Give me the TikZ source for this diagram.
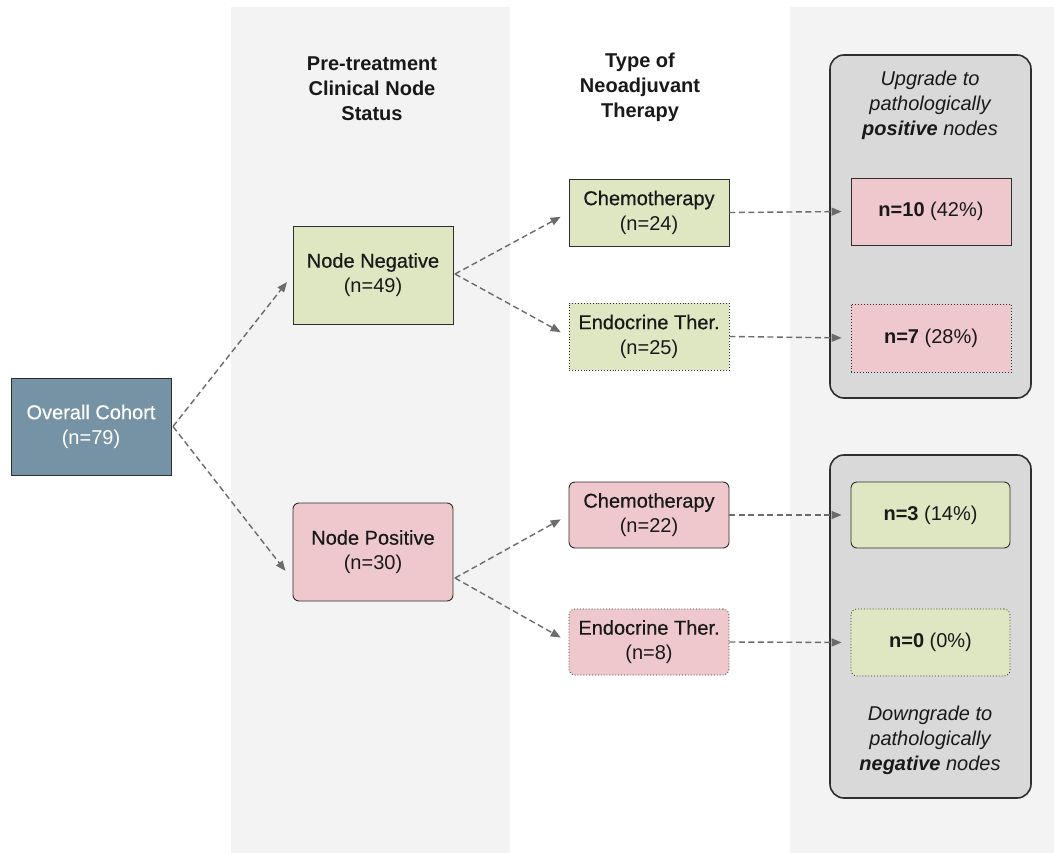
\documentclass[tikz,border=0pt]{standalone}
\usepackage{fontspec}
\setmainfont{Liberation Sans}
\newfontfamily\medfont[FakeBold=0.5]{Liberation Sans}
\usetikzlibrary{arrows.meta}
\definecolor{bandc}{HTML}{F3F3F3}
\definecolor{outerc}{HTML}{D9D9D9}
\definecolor{greenc}{HTML}{DFE6C2}
\definecolor{pinkc}{HTML}{EFC8CE}
\definecolor{bluec}{HTML}{7593A5}
\definecolor{edgec}{HTML}{2E2E2E}
\definecolor{arrc}{HTML}{6B6B6B}
\newcommand{\med}[1]{{\medfont #1}}
\tikzset{
  box/.style={draw=edgec, line width=0.9pt, minimum width=160pt, align=center,
    font=\fontsize{20}{25}\selectfont, inner sep=0pt, text=black!90},
  sharp/.style={box},
  rnd/.style={box, rounded corners=6pt},
  dotb/.style={dotted, line width=0.8pt},
  conn/.style={draw=arrc, line width=1.4pt, dash pattern=on 6pt off 3.5pt,
    -{Triangle[length=10pt,width=8pt]}, shorten >=9pt},
  hdr/.style={align=center, font=\bfseries\fontsize{20}{25}\selectfont, text=black!90},
  grp/.style={draw=edgec, fill=outerc, line width=1.6pt, rounded corners=14pt},
  captxt/.style={align=center, font=\itshape\fontsize{20}{25}\selectfont, text=black!90}
}
\begin{document}
\begin{tikzpicture}[x=1pt,y=-1pt]
\useasboundingbox (0,0) rectangle (1054,853);
\fill[white] (0,0) rectangle (1054,853);
% bands
\fill[bandc] (231,7) rectangle (510,853);
\fill[bandc] (790,7) rectangle (1054,853);
% group boxes
\draw[grp] (830,55) rectangle (1031,398);
\draw[grp] (830,455) rectangle (1031,798);
% headers
\node[hdr] (h1) at (372,89) {Pre-treatment\\Clinical Node\\Status};
\node[hdr] (h2) at (640,87) {Type of\\Neoadjuvant\\Therapy};
\node[captxt] (c1) at (930,105) {Upgrade to\\pathologically\\\textbf{positive} nodes};
\node[captxt] (c2) at (930,740) {Downgrade to\\pathologically\\\textbf{negative} nodes};
% nodes
\node[sharp, fill=bluec, text=white, minimum height=97pt] (all) at (91,426.5) {\med{Overall Cohort}\\(n=79)};
\node[sharp, fill=greenc, minimum height=98pt] (neg) at (373,275) {\med{Node Negative}\\(n=49)};
\node[rnd, fill=pinkc, minimum height=98pt] (pos) at (373,552) {\med{Node Positive}\\(n=30)};
\node[sharp, fill=greenc, minimum height=67pt] (ch1) at (649,212.5) {\med{Chemotherapy}\\(n=24)};
\node[sharp, dotb, fill=greenc, minimum height=67pt] (en1) at (649,336.5) {\med{Endocrine Ther.}\\(n=25)};
\node[rnd, fill=pinkc, minimum height=66pt] (ch2) at (649,515) {\med{Chemotherapy}\\(n=22)};
\node[rnd, dotb, fill=pinkc, minimum height=66pt] (en2) at (649,642) {\med{Endocrine Ther.}\\(n=8)};
\node[sharp, fill=pinkc, minimum height=67pt] (r1) at (931,211.5) {\textbf{n=10} (42\%)};
\node[sharp, dotb, fill=pinkc, minimum height=68pt] (r2) at (931,338) {\textbf{n=7} (28\%)};
\node[rnd, fill=greenc, minimum width=159pt, minimum height=66pt] (r3) at (930.5,515) {\textbf{n=3} (14\%)};
\node[rnd, dotb, fill=greenc, minimum width=159pt, minimum height=67pt] (r4) at (930.5,642.5) {\textbf{n=0} (0\%)};
% connector anchors
\coordinate (allo) at (173,426.5);
\coordinate (nego) at (455,274);
\coordinate (poso) at (455,578);
\coordinate (posi) at (291,578);
% connectors
\draw[conn] (allo) -- (neg.west);
\draw[conn] (allo) -- (posi);
\draw[conn] (nego) -- (ch1.west);
\draw[conn] (nego) -- (en1.west);
\draw[conn] (poso) -- (ch2.west);
\draw[conn] (poso) -- (en2.west);
\draw[conn] (ch1.east) -- (r1.west);
\draw[conn] (en1.east) -- (r2.west);
\draw[conn] (ch2.east) -- (r3.west);
\draw[conn] (en2.east) -- (r4.west);
\end{tikzpicture}
\end{document}
